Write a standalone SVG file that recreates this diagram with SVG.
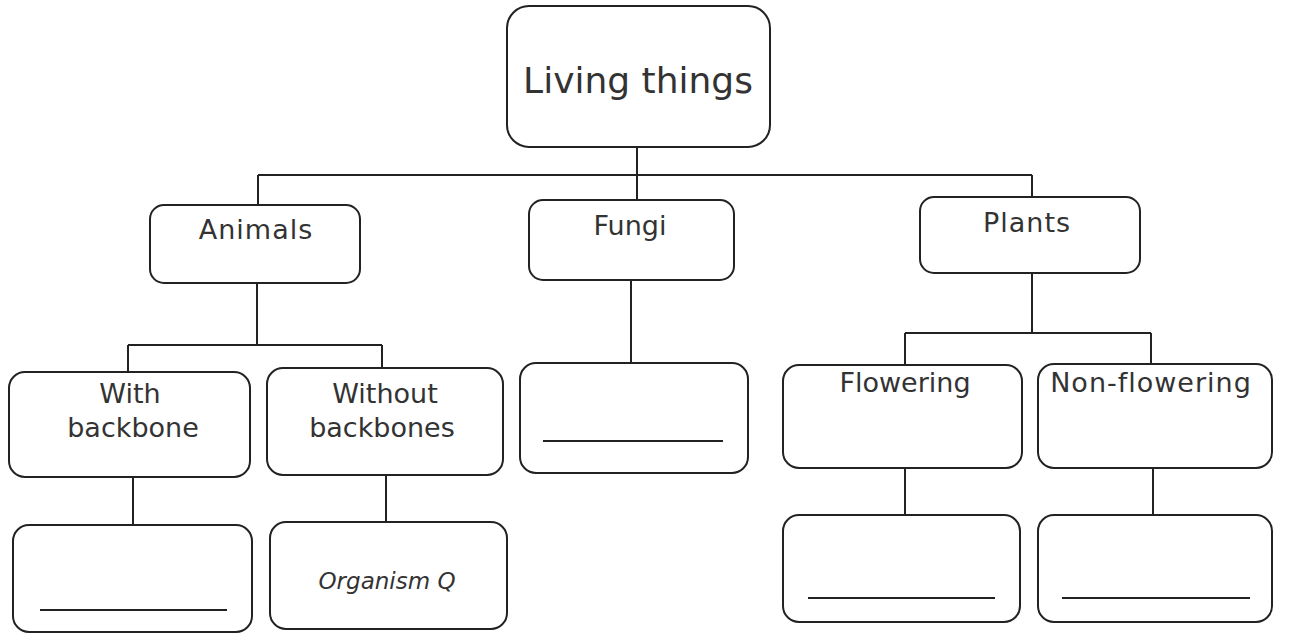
<svg xmlns="http://www.w3.org/2000/svg" width="1299" height="636" viewBox="0 0 1299 636">
<style>
.box{fill:#fff;stroke:#222;stroke-width:2}
.ln{fill:none;stroke:#222;stroke-width:2}
.t{font-family:"DejaVu Sans",sans-serif;font-size:27px;fill:#333;text-anchor:middle}
.big{font-size:36px}
.it{font-style:italic;font-size:23px}
.sp{letter-spacing:1px}
</style>
<rect width="1299" height="636" fill="#fff"/>
<g id="connectors">
<path class="ln" d="M637 147V200M258 175H1032M258 175V205M1032 175V197"/>
<path class="ln" d="M257 283V345M128 345H382M128 345V372M382 345V368"/>
<path class="ln" d="M631 280V363"/>
<path class="ln" d="M1032 273V333M905 333H1151M905 333V365M1151 333V365"/>
<path class="ln" d="M133 477V525M386 475V522"/>
<path class="ln" d="M905 468V515M1153 468V515"/>
</g>
<g id="living-things"><rect class="box" x="507" y="6" width="263" height="141" rx="22"/><text class="t big" x="638" y="93">Living things</text></g>
<g id="animals"><rect class="box" x="150" y="205" width="210" height="78" rx="14"/><text class="t sp" x="256" y="239">Animals</text></g>
<g id="fungi"><rect class="box" x="529" y="200" width="205" height="80" rx="14"/><text class="t" x="630" y="235">Fungi</text></g>
<g id="plants"><rect class="box" x="920" y="197" width="220" height="76" rx="14"/><text class="t sp" x="1027" y="232" font-size="29">Plants</text></g>
<g id="with-backbone"><rect class="box" x="9" y="372" width="241" height="105" rx="16"/><text class="t" x="130" y="403">With</text><text class="t" x="133" y="437">backbone</text></g>
<g id="without-backbones"><rect class="box" x="267" y="368" width="236" height="107" rx="16"/><text class="t" x="385" y="403">Without</text><text class="t" x="382" y="437">backbones</text></g>
<g id="fungi-answer"><rect class="box" x="520" y="363" width="228" height="110" rx="16"/><path class="ln" d="M543 441H723"/></g>
<g id="flowering"><rect class="box" x="783" y="365" width="239" height="103" rx="16"/><text class="t" x="905" y="392">Flowering</text></g>
<g id="non-flowering"><rect class="box" x="1038" y="364" width="234" height="104" rx="16"/><text class="t sp" x="1151" y="392">Non-flowering</text></g>
<g id="backbone-answer"><rect class="box" x="13" y="525" width="239" height="107" rx="16"/><path class="ln" d="M40 610H227"/></g>
<g id="organism-q"><rect class="box" x="270" y="522" width="237" height="107" rx="16"/><text class="t it" x="387" y="589">Organism Q</text></g>
<g id="flowering-answer"><rect class="box" x="783" y="515" width="237" height="107" rx="16"/><path class="ln" d="M808 598H995"/></g>
<g id="non-flowering-answer"><rect class="box" x="1038" y="515" width="234" height="107" rx="16"/><path class="ln" d="M1062 598H1250"/></g>
</svg>
